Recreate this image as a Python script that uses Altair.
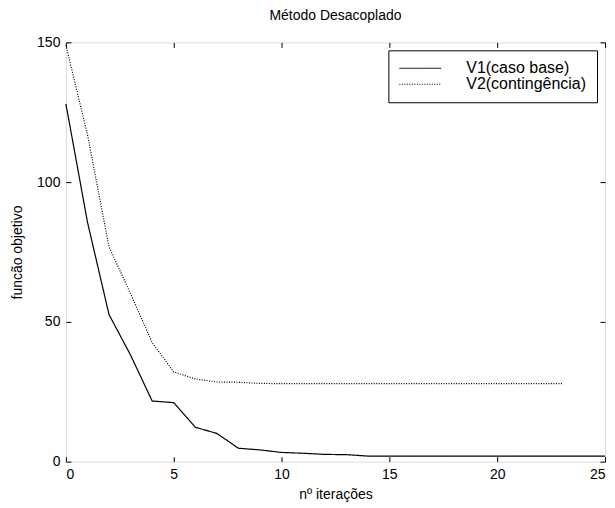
import altair as alt
import pandas as pd

# ---- data ----
iter_v1 = list(range(26))
v1 = [128, 85.7, 52.6, 38.1, 21.7, 21.1, 12.3, 10.1, 4.8, 4.2, 3.3, 3.0, 2.6,
      2.5, 2.0, 2.0, 2.0, 2.0, 2.0, 2.0, 2.0, 2.0, 2.0, 2.0, 2.0, 2.0]
iter_v2 = list(range(24))
v2 = [149, 117, 76.8, 60.1, 42.6, 32.1, 29.6, 28.5, 28.4, 28.0, 27.9, 27.9,
      27.9, 27.9, 27.9, 27.9, 27.9, 27.9, 27.9, 27.9, 27.9, 27.9, 27.9, 27.9]
series_names = ["V1(caso base)", "V2(contingência)"]
x_ticks = [0, 5, 10, 15, 20, 25]
y_ticks = [0, 50, 100, 150]

df = pd.concat([
    pd.DataFrame({"iter": iter_v1, "valor": v1, "serie": series_names[0]}),
    pd.DataFrame({"iter": iter_v2, "valor": v2, "serie": series_names[1]}),
], ignore_index=True)

FONT = "Liberation Sans"
xscale = alt.Scale(domain=[0, 25], nice=False, zero=False)
yscale = alt.Scale(domain=[0, 150], nice=False, zero=False)

axis_common = dict(grid=False, domain=False, tickColor="black", tickSize=5,
                   offset=-5, tickWidth=1, labelColor="black",
                   labelFont=FONT, labelFontSize=14, titleFont=FONT,
                   titleFontSize=14, titleFontWeight="normal",
                   titleColor="black")

lines = alt.Chart(df).mark_line(color="black", strokeWidth=1.2).encode(
    x=alt.X("iter:Q", scale=xscale,
            axis=alt.Axis(orient="bottom", values=x_ticks, title="nº iterações",
                          labelPadding=6, titlePadding=6, **axis_common)),
    y=alt.Y("valor:Q", scale=yscale,
            axis=alt.Axis(orient="left", values=y_ticks, title="funcão objetivo",
                          labelPadding=6, titlePadding=12, **axis_common)),
    strokeDash=alt.StrokeDash(
        "serie:N",
        scale=alt.Scale(domain=series_names, range=[[1, 0], [1, 1.5]]),
        legend=alt.Legend(
            title=None, orient="top-right", offset=8,
            strokeColor="black", fillColor="white", padding=10,
            symbolType="M-1,0H5", symbolSize=196, symbolStrokeColor="black",
            symbolStrokeWidth=1, symbolFillColor="transparent",
            labelOffset=52, labelFont=FONT, labelFontSize=16,
            labelColor="black", rowPadding=0, labelLimit=300,
        ),
    ),
)

ticks_opp = alt.Chart(df).mark_line(opacity=0).encode(
    x=alt.X("iter:Q", scale=xscale,
            axis=alt.Axis(orient="top", values=x_ticks, title=None,
                          labels=False, **axis_common)),
    y=alt.Y("valor:Q", scale=yscale,
            axis=alt.Axis(orient="right", values=y_ticks, title=None,
                          labels=False, **axis_common)),
    detail="serie:N",
)

chart = alt.layer(lines, ticks_opp).resolve_axis(
    x="independent", y="independent"
).properties(
    width=540, height=420,
    autosize=alt.AutoSizeParams(type="none"),
    padding={"left": 58, "top": 34, "right": 2, "bottom": 40},
    title=alt.TitleParams("Método Desacoplado", font=FONT, fontSize=14,
                          fontWeight="normal", color="black", offset=12),
).configure_view(
    stroke="black", strokeWidth=1.2
).configure(background="white")

chart.save("out.html", embed_options={"renderer": "svg", "actions": False})
